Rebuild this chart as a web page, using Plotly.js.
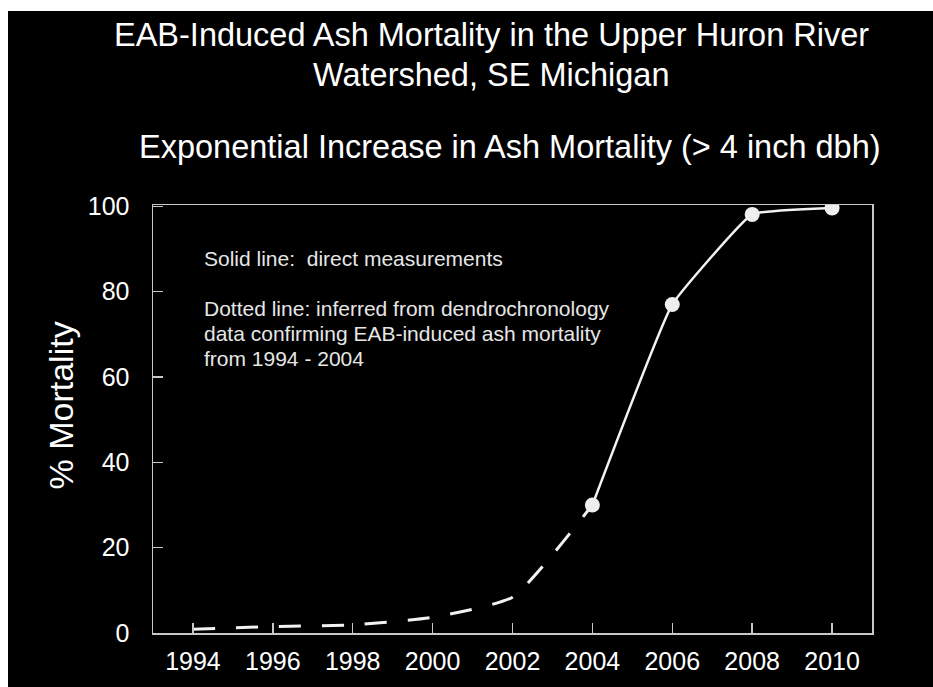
<!DOCTYPE html>
<html>
<head>
<meta charset="utf-8">
<script src="https://cdn.plot.ly/plotly-3.0.1.min.js"></script>
<style>
  html, body { margin: 0; padding: 0; background: #ffffff; width: 933px; height: 687px; overflow: hidden; }
  #chart { position: absolute; left: 8px; top: 11px; width: 925px; height: 676px; }
</style>
</head>
<body>
<div id="chart"></div>
<script>
// Data
const inferredYears = [1994, 1996, 1998, 2000, 2002, 2004];
const inferredMortality = [0.9, 1.5, 1.9, 3.7, 8.4, 30];
const measuredYears = [2004, 2006, 2008, 2010];
const measuredMortality = [30, 77, 98.1, 99.6];
const xTickValues = [1994, 1996, 1998, 2000, 2002, 2004, 2006, 2008, 2010];
const yTickValues = [0, 20, 40, 60, 80, 100];

const titleLine1 = 'EAB-Induced Ash Mortality in the Upper Huron River';
const titleLine2 = 'Watershed, SE Michigan';
const subtitle = 'Exponential Increase in Ash Mortality (&gt; 4 inch dbh)';
const yTitle = '% Mortality';
const noteLines = [
  'Solid line:  direct measurements',
  'Dotted line: inferred from dendrochronology',
  'data confirming EAB-induced ash mortality',
  'from 1994 - 2004'
];

const FONT = '"Liberation Sans", Arial, Helvetica, sans-serif';
const AXIS = '#c8c8c8';

// plot area in page pixels: left 153, top 205
const PL = 153, PT = 205;

const traces = [
  {
    x: inferredYears, y: inferredMortality, type: 'scatter', mode: 'lines',
    line: { color: '#f2f2f2', width: 3, dash: '22px,21px', shape: 'spline', smoothing: 0.5 },
    hoverinfo: 'skip'
  },
  {
    x: measuredYears, y: measuredMortality, type: 'scatter', mode: 'lines+markers',
    line: { color: '#f2f2f2', width: 2.5, shape: 'spline', smoothing: 0.3 },
    marker: { color: '#eeeeee', size: 15 },
    hoverinfo: 'skip'
  }
];

function ann(text, xpage, ypage, size, xanchor, extra) {
  return Object.assign({
    text: text, xref: 'paper', yref: 'paper', x: 0, y: 1,
    xshift: xpage - PL, yshift: PT - ypage,
    xanchor: xanchor, yanchor: 'middle', showarrow: false,
    font: { family: FONT, size: size, color: '#ffffff' }
  }, extra || {});
}

const noteFont = { family: FONT, size: 21, color: '#e6e6e6' };

const annotations = [
  ann(titleLine1, 491, 34.5, 32.5, 'center'),
  ann(titleLine2, 491, 74.5, 32.5, 'center'),
  ann(subtitle, 509.5, 146.5, 32.5, 'center'),
  ann(yTitle, 60, 405.5, 34, 'center', { textangle: -90 }),
  ann(noteLines[0], 202, 258.7, 21, 'left', { font: noteFont }),
  ann(noteLines[1], 202, 308, 21, 'left', { font: noteFont }),
  ann(noteLines[2], 202, 333, 21, 'left', { font: noteFont }),
  ann(noteLines[3], 202, 358.7, 21, 'left', { font: noteFont })
];

const layout = {
  width: 925, height: 676,
  paper_bgcolor: '#000000', plot_bgcolor: '#000000',
  margin: { l: 145, r: 61, t: 194, b: 54, pad: 0 },
  showlegend: false,
  font: { family: FONT, color: '#ffffff' },
  xaxis: {
    range: [1993, 2011], tickvals: xTickValues, ticktext: xTickValues.map(String),
    showgrid: false, zeroline: false,
    showline: true, linecolor: AXIS, linewidth: 1.5, mirror: true,
    ticks: 'inside', ticklen: 10, tickwidth: 1.5, tickcolor: AXIS,
    tickfont: { family: FONT, size: 25, color: '#ffffff' },
    ticklabelstandoff: 5
  },
  yaxis: {
    range: [0, 100.3], tickvals: yTickValues, ticktext: yTickValues.map(String),
    showgrid: false, zeroline: false,
    showline: true, linecolor: AXIS, linewidth: 1.5, mirror: true,
    ticks: 'inside', ticklen: 10, tickwidth: 1.5, tickcolor: AXIS,
    tickfont: { family: FONT, size: 25, color: '#ffffff' },
    ticklabelstandoff: 17
  },
  annotations: annotations
};

Plotly.newPlot('chart', traces, layout, { displayModeBar: false, staticPlot: true });
</script>
</body>
</html>
